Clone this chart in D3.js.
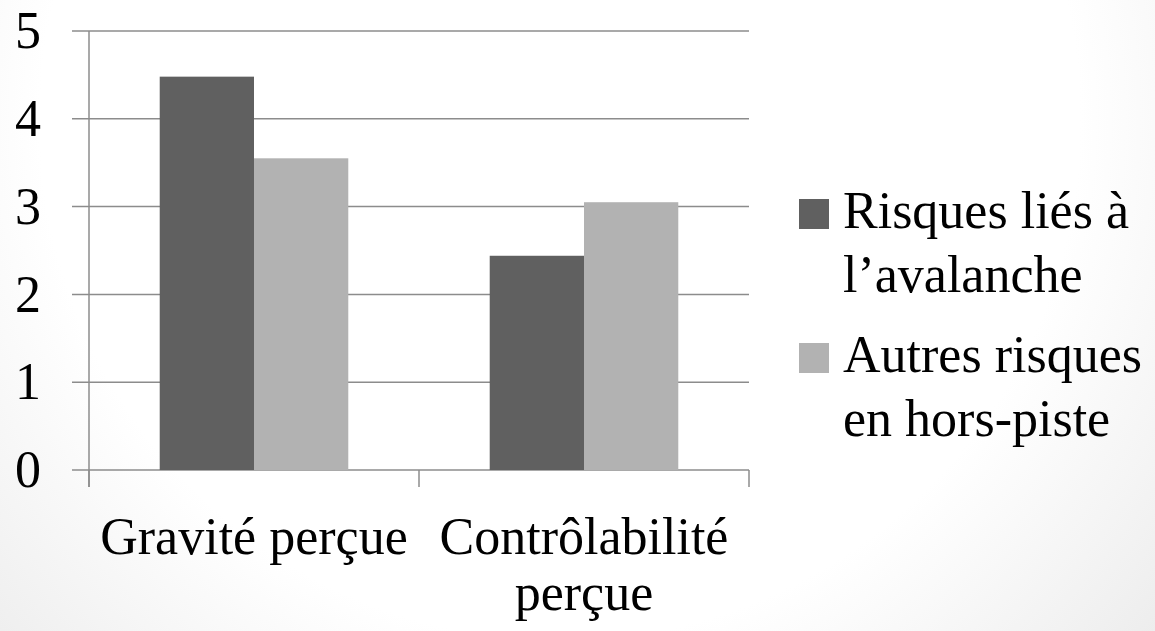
<!DOCTYPE html>
<html>
<head>
<meta charset="utf-8">
<script src="https://cdn.jsdelivr.net/npm/d3@7"></script>
<style>
  body { margin: 0; overflow: hidden; }
  text { font-family: "Liberation Serif", "DejaVu Serif", serif; fill: #000; }
</style>
</head>
<body>
<div id="chart"></div>
<script>
// grouped bars: perceived gravity / controllability of off-piste risks
var categories = ["Gravité perçue", "Contrôlabilité perçue"];
var seriesNames = ["Risques liés à l’avalanche", "Autres risques en hors-piste"];
var avalanche = [4.48, 2.44];
var autres = [3.55, 3.05];
var yTicks = [0, 1, 2, 3, 4, 5];

var colors = ["#606060", "#b2b2b2"];
var fontSize = 52;

var W = 1155, H = 631;
var margin = {top: 31, right: 406, bottom: 161, left: 89};
var width = W - margin.left - margin.right,
    height = H - margin.top - margin.bottom;

var root = d3.select("#chart").append("svg")
    .attr("width", W)
    .attr("height", H);

// slide background, light grey towards the edges
var grad = root.append("defs").append("radialGradient")
    .attr("id", "bg")
    .attr("gradientUnits", "userSpaceOnUse")
    .attr("cx", 560).attr("cy", 120).attr("r", 800);
grad.append("stop").attr("offset", "0.65").attr("stop-color", "#ffffff");
grad.append("stop").attr("offset", "1").attr("stop-color", "#ececec");
root.append("rect")
    .attr("width", W).attr("height", H)
    .attr("fill", "url(#bg)");

var svg = root.append("g")
    .attr("transform", "translate(" + margin.left + "," + margin.top + ")");

var data = categories.map(function(c, i) {
    return {cat: c, values: [avalanche[i], autres[i]]};
});

var x0 = d3.scaleBand()
    .domain(categories)
    .range([0, width]);

// excel gap width 150%
var x1 = d3.scaleBand()
    .domain(d3.range(seriesNames.length))
    .range([0, x0.bandwidth()])
    .paddingOuter(0.75)
    .paddingInner(0);

var y = d3.scaleLinear()
    .domain([0, 5])
    .range([height, 0]);

// gridlines (extend left of the axis like outer ticks)
svg.selectAll(".grid")
    .data(yTicks)
    .enter()
    .append("line")
    .attr("class", "grid")
    .attr("x1", -17)
    .attr("x2", width)
    .attr("y1", function(d) { return y(d); })
    .attr("y2", function(d) { return y(d); })
    .attr("stroke", "#8c8c8c")
    .attr("stroke-width", 1.5);

// bars
var groups = svg.selectAll(".group")
    .data(data)
    .enter()
    .append("g")
    .attr("transform", function(d) { return "translate(" + x0(d.cat) + ",0)"; });

groups.selectAll("rect")
    .data(function(d) { return d.values; })
    .enter()
    .append("rect")
    .attr("x", function(d, i) { return x1(i); })
    .attr("width", x1.bandwidth())
    .attr("y", function(d) { return y(d); })
    .attr("height", function(d) { return height - y(d); })
    .attr("fill", function(d, i) { return colors[i]; });

// y axis
var yAxis = d3.axisLeft(y)
    .tickValues(yTicks)
    .tickFormat(d3.format("d"))
    .tickSize(0)
    .tickPadding(48);

var gy = svg.append("g").call(yAxis);
gy.select(".domain").remove();
gy.selectAll("text")
    .style("font-size", fontSize + "px")
    .style("font-family", "Liberation Serif")
    .attr("fill", "#000")
    .attr("dy", "0.32em");

svg.append("line")
    .attr("x1", 0).attr("x2", 0)
    .attr("y1", 0).attr("y2", height + 17)
    .attr("stroke", "#8c8c8c")
    .attr("stroke-width", 1.5);

// x axis: ticks on category boundaries
var bounds = categories.map(function(c) { return x0(c); }).concat([width]);
svg.selectAll(".xtick")
    .data(bounds)
    .enter()
    .append("line")
    .attr("x1", function(d) { return d; })
    .attr("x2", function(d) { return d; })
    .attr("y1", height)
    .attr("y2", height + 17)
    .attr("stroke", "#8c8c8c")
    .attr("stroke-width", 1.5);

function wrap(sel, maxWidth, lineHeight) {
    sel.each(function() {
        var t = d3.select(this),
            words = t.text().split(/\s+/),
            x = t.attr("x"),
            line = [],
            tspan = t.text(null).append("tspan").attr("x", x).attr("dy", 0);
        words.forEach(function(w) {
            line.push(w);
            tspan.text(line.join(" "));
            if (tspan.node().getComputedTextLength() > maxWidth && line.length > 1) {
                line.pop();
                tspan.text(line.join(" "));
                line = [w];
                tspan = t.append("tspan").attr("x", x).attr("dy", lineHeight).text(w);
            }
        });
    });
}

svg.selectAll(".xlabel")
    .data(categories)
    .enter()
    .append("text")
    .attr("class", "xlabel")
    .attr("x", function(d) { return x0(d) + x0.bandwidth() / 2; })
    .attr("y", height + 84)
    .attr("text-anchor", "middle")
    .style("font-size", fontSize + "px")
    .text(function(d) { return d; })
    .call(wrap, x0.bandwidth() - 10, 56);

// legend
var legend = root.append("g")
    .attr("transform", "translate(799,199)");

var entries = legend.selectAll(".entry")
    .data(seriesNames)
    .enter()
    .append("g")
    .attr("transform", function(d, i) { return "translate(0," + (i * 144) + ")"; });

entries.append("rect")
    .attr("width", 30)
    .attr("height", 30)
    .attr("fill", function(d, i) { return colors[i]; });

entries.append("text")
    .attr("x", 44)
    .attr("y", 29)
    .style("font-size", fontSize + "px")
    .text(function(d) { return d; })
    .call(wrap, W - 843 - 4, 64);
</script>
</body>
</html>
